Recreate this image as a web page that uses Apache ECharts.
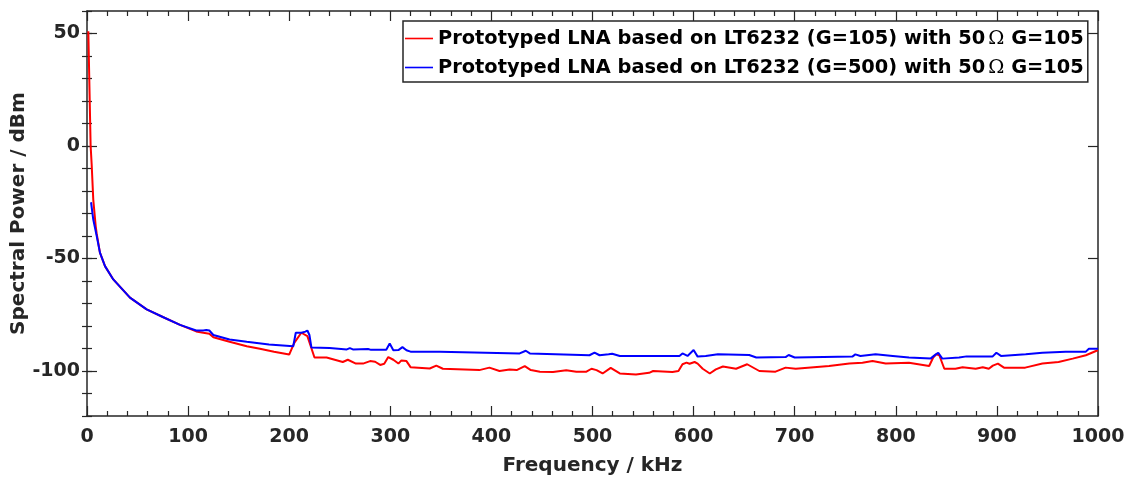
<!DOCTYPE html>
<html>
<head>
<meta charset="utf-8">
<script src="https://cdn.jsdelivr.net/npm/echarts@6/dist/echarts.min.js"></script>
<style>
  html, body { margin: 0; padding: 0; background: #fff; }
  #chart { width: 1128px; height: 483px; }
</style>
</head>
<body>
<div id="chart"></div>
<script>
// Spectral power of two prototyped LNAs (frequency in kHz, power in dBm)
const seriesNames = [
  'Prototyped LNA based on LT6232 (G=105) with 50Ω G=105',
  'Prototyped LNA based on LT6232 (G=500) with 50Ω G=105'
];

const g105Freq = [1.3, 3.6, 4.6, 6.2, 8.6, 9.6, 12.8, 17.8, 26, 42.5, 59, 75, 92, 108, 115, 121, 125, 141, 158, 171, 185, 200, 205, 212, 218, 225, 237, 253, 258, 266, 273, 280, 285, 290, 294, 298, 303, 308, 311, 316, 320, 339, 345.5, 352, 388, 398, 408, 418, 425, 433, 439, 448, 461, 474, 484, 494, 499, 504, 510, 518, 527, 543, 556, 560, 579, 585, 589, 593, 596, 601, 604, 609, 616, 622, 629, 642, 653, 665, 681, 691, 701, 734, 754, 767, 777, 790, 813, 833, 837, 840, 843, 848, 859, 866, 879, 886, 892, 896, 901, 907, 928, 945, 961, 975, 988, 998, 1000];
const g105Power = [51, 0, -8, -23.8, -35.6, -39, -47.4, -53.4, -59.3, -67.4, -72.6, -76, -79.5, -82.4, -83, -83.4, -85, -87, -89, -90.1, -91.4, -92.7, -87.5, -83, -84.5, -94, -94, -96, -95, -96.7, -96.7, -95.6, -95.9, -97.3, -96.8, -93.8, -95, -96.7, -95.3, -95.6, -98.3, -98.9, -97.6, -99, -99.6, -98.5, -100, -99.3, -99.6, -97.8, -99.6, -100.3, -100.4, -99.7, -100.3, -100.3, -99, -99.6, -101.1, -98.6, -101.1, -101.6, -100.8, -100, -100.4, -100, -97, -96.3, -96.8, -96, -96.7, -99, -101.1, -99.3, -98, -99, -97, -100, -100.3, -98.5, -99, -97.8, -96.7, -96.3, -95.6, -96.7, -96.3, -97.8, -94, -92.6, -93, -99, -99, -98.3, -99, -98.3, -99, -97.6, -96.7, -98.5, -98.5, -96.7, -96, -94.5, -93, -91.1, -90.8];

const g500Freq = [4, 6.2, 9.6, 12.8, 17.8, 26, 42.5, 59, 75, 92, 108, 115, 118, 121, 125, 141, 158, 180, 204, 206.5, 212, 216, 218, 220, 222, 240, 257, 260, 263, 278, 281, 296, 299.4, 303, 308, 312, 316, 320, 349, 428, 434, 438, 497, 502, 507, 516, 519.5, 527, 586, 589, 594, 600, 604, 612, 624, 655, 662, 691, 694, 700, 757, 760, 765, 780, 797, 813, 834.6, 839.6, 842, 846, 862.6, 870, 895.6, 899.5, 904, 928.5, 945, 968, 988, 991, 1000];
const g500Power = [-25, -32.7, -40, -47.4, -53.4, -59.3, -67.4, -72.6, -76, -79.5, -82, -82, -81.8, -82, -84, -86, -87, -88.2, -89, -83, -83, -82.5, -82, -84, -89.6, -89.8, -90.4, -89.8, -90.4, -90.2, -90.6, -90.6, -87.8, -90.8, -90.7, -89.4, -90.8, -91.4, -91.4, -92.2, -91, -92.2, -93, -91.8, -93, -92.6, -92.3, -93.3, -93.3, -92.2, -93.3, -90.7, -93.6, -93.3, -92.6, -92.9, -94, -93.8, -92.9, -94, -93.6, -92.6, -93.3, -92.6, -93.3, -94, -94.4, -92.6, -91.9, -94.5, -94, -93.5, -93.6, -91.9, -93.3, -92.6, -91.9, -91.4, -91.4, -90.1, -90.1];

const yLabelValues = [50, 0, -50, -100];

const zip = (xs, ys) => xs.map((x, i) => [x, ys[i]]);

const axisColor = '#262626';
const fontFamily = '"DejaVu Sans", sans-serif';

const frameAxis = {
  min: 0, max: 1000, interval: 100,
  axisLine: { show: true, onZero: false, lineStyle: { color: axisColor, width: 1.5 } },
  axisTick: { show: true, inside: true, length: 10, lineStyle: { color: axisColor, width: 1.2 } },
  minorTick: { show: true, splitNumber: 5, length: 5, lineStyle: { color: axisColor, width: 1.2 } },
  splitLine: { show: false },
  minorSplitLine: { show: false }
};

const yMajor = (position, showLabel) => ({
  type: 'value', position, min: -120, max: 60,
  axisLine: { show: true, onZero: false, lineStyle: { color: axisColor, width: 1.5 } },
  axisTick: { show: true, inside: true, length: 10, customValues: yLabelValues, lineStyle: { color: axisColor, width: 1.2 } },
  axisLabel: showLabel ? {
    show: true, customValues: yLabelValues, margin: 7,
    color: axisColor, fontFamily, fontWeight: 'bold', fontSize: 19
  } : { show: false },
  splitLine: { show: false }
});

const yMinor = (position) => ({
  type: 'value', position, min: -120, max: 60, interval: 10,
  axisLine: { show: false },
  axisTick: { show: true, inside: true, length: 5, lineStyle: { color: axisColor, width: 1.2 } },
  axisLabel: { show: false },
  splitLine: { show: false }
});

// Legend marker: a short horizontal stroke in the series colour
const legendLine = 'path://M0,0H28V1.6H0Z';

const chart = echarts.init(document.getElementById('chart'), null, { renderer: 'canvas' });

chart.setOption({
  animation: false,
  backgroundColor: '#ffffff',
  grid: { left: 87, right: 30, top: 11, bottom: 67, containLabel: false, outerBoundsMode: 'none' },
  legend: {
    left: 403, top: 21,
    orient: 'vertical',
    icon: legendLine,
    itemWidth: 28, itemHeight: 19, itemGap: 10,
    padding: [8, 4, 5, 2],
    borderColor: axisColor, borderWidth: 1.5,
    backgroundColor: '#ffffff',
    data: seriesNames,
    formatter: (name) => name.replace('Ω', '{o|Ω}'),
    textStyle: {
      color: '#000000', fontFamily, fontWeight: 'bold', fontSize: 19.4,
      rich: { o: { fontFamily: '"DejaVu Serif", serif', fontWeight: 'normal', fontSize: 19.4, padding: [0, 0, 0, 3] } }
    }
  },
  xAxis: [
    Object.assign({}, frameAxis, {
      type: 'value', position: 'bottom',
      name: 'Frequency / kHz', nameLocation: 'middle', nameGap: 40, nameMoveOverlap: false,
      nameTextStyle: { color: axisColor, fontFamily, fontWeight: 'bold', fontSize: 20 },
      axisLabel: {
        show: true, margin: 12, color: axisColor, fontFamily, fontWeight: 'bold', fontSize: 19,
        formatter: (v) => String(v)
      }
    }),
    Object.assign({}, frameAxis, {
      type: 'value', position: 'top',
      axisLabel: { show: false }
    })
  ],
  yAxis: [
    Object.assign(yMajor('left', true), {
      name: 'Spectral Power / dBm', nameLocation: 'middle', nameGap: 58, nameMoveOverlap: false,
      nameTextStyle: { color: axisColor, fontFamily, fontWeight: 'bold', fontSize: 20 }
    }),
    yMinor('left'),
    yMajor('right', false),
    yMinor('right')
  ],
  series: [
    {
      name: seriesNames[0], type: 'line', xAxisIndex: 0, yAxisIndex: 0,
      data: zip(g105Freq, g105Power),
      symbol: 'none', lineStyle: { color: '#ff0000', width: 2 }, itemStyle: { color: '#ff0000' }
    },
    {
      name: seriesNames[1], type: 'line', xAxisIndex: 0, yAxisIndex: 0,
      data: zip(g500Freq, g500Power),
      symbol: 'none', lineStyle: { color: '#0000ff', width: 2 }, itemStyle: { color: '#0000ff' }
    }
  ]
});
</script>
</body>
</html>
